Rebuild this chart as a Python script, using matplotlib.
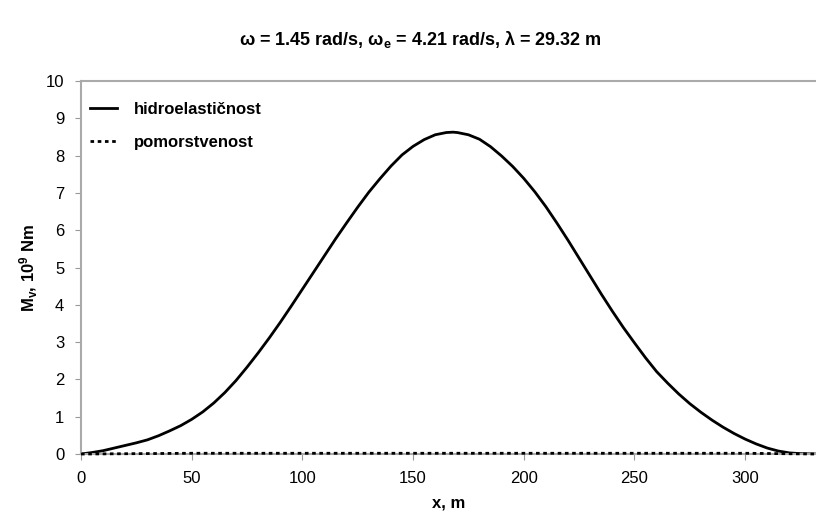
import matplotlib
matplotlib.use('Agg')
import matplotlib.pyplot as plt

plt.rcParams['font.family'] = ['Liberation Sans', 'DejaVu Sans']
plt.rcParams['mathtext.fontset'] = 'custom'
plt.rcParams['mathtext.bf'] = 'Liberation Sans:bold'
plt.rcParams['mathtext.rm'] = 'Liberation Sans:bold'
plt.rcParams['mathtext.default'] = 'bf'

# values
x_hidro = [0, 5, 10, 15, 20, 25, 30, 35, 40, 45, 50, 55, 60, 65, 70, 75, 80, 85, 90, 95,
           100, 105, 110, 115, 120, 125, 130, 135, 140, 145, 150, 155, 160, 165, 168, 170,
           175, 180, 185, 190, 195, 200, 205, 210, 215, 220, 225, 230, 235, 240, 245, 250,
           255, 260, 265, 270, 275, 280, 285, 290, 295, 300, 305, 310, 315, 320, 325, 332]
m_hidro = [0.0, 0.04, 0.09, 0.16, 0.23, 0.30, 0.38, 0.49, 0.62, 0.76, 0.93, 1.13, 1.37, 1.65,
           1.97, 2.33, 2.71, 3.11, 3.53, 3.97, 4.42, 4.87, 5.32, 5.77, 6.20, 6.62, 7.02, 7.38,
           7.72, 8.02, 8.25, 8.43, 8.56, 8.62, 8.63, 8.62, 8.56, 8.44, 8.24, 7.99, 7.71, 7.39,
           7.03, 6.63, 6.19, 5.73, 5.25, 4.77, 4.29, 3.83, 3.39, 2.98, 2.58, 2.21, 1.90, 1.61,
           1.35, 1.12, 0.91, 0.72, 0.55, 0.40, 0.27, 0.16, 0.08, 0.03, 0.01, 0.0]

x_pomor = [0, 50, 100, 150, 200, 250, 300, 332]
m_pomor = [0.0, 0.02, 0.02, 0.02, 0.02, 0.02, 0.02, 0.0]

fig = plt.figure(figsize=(8.16, 5.23), dpi=100)
ax = fig.add_axes([0.0993, 0.1319, 0.9007, 0.7131])

ax.plot(x_hidro, m_hidro, color='black', lw=2.0, solid_joinstyle='round',
        label='hidroelastičnost')
ax.plot(x_pomor, m_pomor, color='black', lw=2.0, ls=(0, (1.3, 1.3)), zorder=4,
        clip_on=False, label='pomorstvenost')

ax.set_xlim(0, 332)
ax.set_ylim(0, 10)
ax.set_xticks(range(0, 301, 50))
ax.set_yticks(range(0, 11))
ax.tick_params(direction='out', length=4, color='#999999', labelsize=12, pad=8)

for side in ['left', 'bottom', 'top']:
    ax.spines[side].set_color('#aaaaaa')
    ax.spines[side].set_linewidth(1.5)
ax.spines['right'].set_visible(False)

ax.set_xlabel('x, m', fontsize=12, fontweight='bold', labelpad=7)
ax.set_ylabel(r'M$_v$, 10$^9$ Nm', fontsize=12, fontweight='bold', labelpad=4)

fig.suptitle(r'ω = 1.45 rad/s, ω$_e$ = 4.21 rad/s, λ = 29.32 m',
             x=0.515, y=0.945, fontsize=13, fontweight='bold')

leg = ax.legend(loc='upper left', bbox_to_anchor=(-0.008, 0.985), frameon=False,
                fontsize=12, handlelength=1.6, handletextpad=1.0, labelspacing=1.1)
for t in leg.get_texts():
    t.set_fontweight('bold')

fig.savefig('out.png', dpi=100)
